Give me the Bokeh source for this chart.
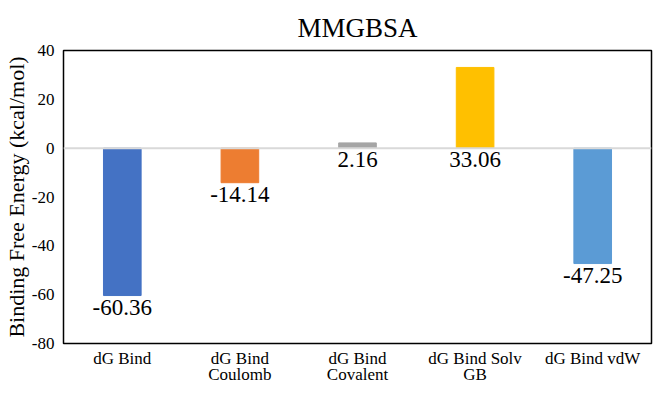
from bokeh.plotting import figure
from bokeh.models import ColumnDataSource, Span, FactorRange, Range1d
from bokeh.core.properties import value
from bokeh.embed import file_html
from bokeh.resources import INLINE

categories = ["dG Bind", "dG Bind\nCoulomb", "dG Bind\nCovalent", "dG Bind Solv\nGB", "dG Bind vdW"]
values = [-60.36, -14.14, 2.16, 33.06, -47.25]
labels = ["-60.36", "-14.14", "2.16", "33.06", "-47.25"]
colors = ["#4472C4", "#ED7D31", "#A5A5A5", "#FFC000", "#5B9BD5"]
y_ticks = [-80, -60, -40, -20, 0, 20, 40]

FONT = "'Liberation Serif'"

src = ColumnDataSource(dict(
    cat=categories,
    val=values,
    lab=labels,
    col=colors,
    lab_y=[min(v, 0) for v in values],
))

p = figure(
    width=653, height=386,
    x_range=FactorRange(factors=categories, range_padding=0),
    y_range=Range1d(y_ticks[0], y_ticks[-1]),
    output_backend="svg", toolbar_location=None,
    title="MMGBSA",
    min_border_left=56, min_border_right=2, min_border_top=50, min_border_bottom=39,
)

p.vbar(x="cat", top="val", bottom=0, width=0.32, color="col", source=src)

p.text(x="cat", y="lab_y", text="lab", source=src,
       text_align="center", text_baseline="top", y_offset=4,
       text_font=value(FONT), text_font_size="23px", text_color="#000000")

p.add_layout(Span(location=0, dimension="width", line_color="#d9d9d9", line_width=2))

p.title.align = "center"
p.title.vertical_align = "top"
p.title.text_font = FONT
p.title.text_font_size = "27px"
p.title.text_font_style = "normal"
p.title.text_color = "#000000"
p.title.standoff = 11

p.xgrid.visible = False
p.ygrid.visible = False

p.outline_line_color = "#000000"
p.outline_line_width = 1.5
p.outline_line_alpha = 1

p.yaxis.ticker = y_ticks
p.yaxis.major_label_overrides = {t: str(t) for t in y_ticks}
p.yaxis.axis_line_color = None
p.yaxis.major_tick_line_color = None
p.yaxis.minor_tick_line_color = None
p.yaxis.major_tick_out = 0
p.yaxis.major_tick_in = 0
p.yaxis.major_label_standoff = 9
p.yaxis.major_label_text_font = FONT
p.yaxis.major_label_text_font_size = "17px"
p.yaxis.major_label_text_color = "#000000"
p.yaxis.axis_label = "Binding Free Energy (kcal/mol)"
p.yaxis.axis_label_text_font = FONT
p.yaxis.axis_label_text_font_size = "22px"
p.yaxis.axis_label_text_font_style = "normal"
p.yaxis.axis_label_text_color = "#000000"
p.yaxis.axis_label_standoff = 0

p.xaxis.axis_line_color = None
p.xaxis.major_tick_line_color = None
p.xaxis.minor_tick_line_color = None
p.xaxis.major_tick_out = 0
p.xaxis.major_tick_in = 0
p.xaxis.axis_label_standoff = 0
p.xaxis.major_label_standoff = 5
p.xaxis.major_label_text_font = FONT
p.xaxis.major_label_text_font_size = "17px"
p.xaxis.major_label_text_line_height = 0.85
p.xaxis.major_label_text_color = "#000000"
p.xaxis.major_label_orientation = "horizontal"

open("out.html", "w").write(file_html(p, INLINE))
